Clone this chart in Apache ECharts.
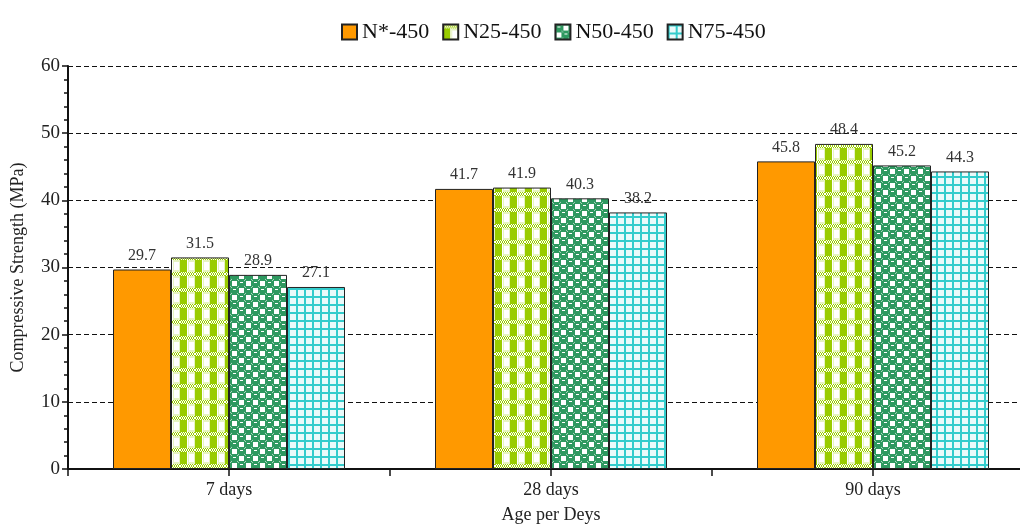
<!DOCTYPE html>
<html>
<head>
<meta charset="utf-8">
<script src="https://cdn.jsdelivr.net/npm/echarts@6/dist/echarts.min.js"></script>
<style>html,body{margin:0;padding:0;background:#fff;}#c{width:1020px;height:525px;}</style>
</head>
<body>
<div id="c"></div>
<script>
const categories = ['7 days', '28 days', '90 days'];
const seriesNames = ['N*-450', 'N25-450', 'N50-450', 'N75-450'];
const nStar = [29.7, 41.7, 45.8];
const n25 = [31.5, 41.9, 48.4];
const n50 = [28.9, 40.3, 45.2];
const n75 = [27.1, 38.2, 44.3];
const yTicks = [0, 10, 20, 30, 40, 50, 60];

function mk(w, h, draw) {
  const c = document.createElement('canvas');
  c.width = w; c.height = h;
  const g = c.getContext('2d');
  draw(g);
  return { image: c, repeat: 'repeat' };
}
const pat25 = mk(15, 16, g => {
  g.fillStyle = '#fff'; g.fillRect(0, 0, 15, 16);
  g.fillStyle = '#99cc00';
  for (let y = 0; y < 4; y += 2) for (let x = 0; x < 15; x += 2) { g.fillRect(x + (y % 4 ? 1 : 0), y, 1, 1); g.fillRect(x + (y % 4 ? 0 : 1), y + 1, 1, 1); }
  g.fillRect(0, 4, 7, 12);
  g.fillStyle = '#e6f4c0'; g.fillRect(8, 4, 7, 12);
  g.fillStyle = '#fff'; g.fillRect(9, 6, 5, 8);
});
const pat50 = mk(14, 14, g => {
  g.fillStyle = '#fff'; g.fillRect(0, 0, 14, 14);
  g.fillStyle = '#2e9960';
  g.beginPath(); g.arc(3.5, 3.5, 4.2, 0, Math.PI * 2); g.fill();
  g.beginPath(); g.arc(10.5, 10.5, 4.2, 0, Math.PI * 2); g.fill();
  g.fillRect(7, 0, 7, 7); g.fillRect(0, 7, 7, 7);
  g.fillStyle = '#fff';
  g.fillRect(8, 1, 5, 5); g.fillRect(1, 8, 5, 5);
  g.fillRect(2, 2, 3, 1); g.fillRect(9, 9, 3, 1);
});
const pat75 = mk(8, 8, g => {
  g.fillStyle = '#eafafa'; g.fillRect(0, 0, 8, 8);
  g.fillStyle = '#33cccc';
  g.fillRect(0, 0, 8, 2); g.fillRect(0, 0, 2, 8);
});
const fills = ['#ff9900', pat25, pat50, pat75];
const datas = [nStar, n25, n50, n75];
const serif = '"Liberation Serif", "DejaVu Serif", serif';

const chart = echarts.init(document.getElementById('c'), null, { renderer: 'canvas' });
chart.setOption({
  animation: false,
  backgroundColor: '#fff',
  legend: {
    top: 16, left: 336, itemWidth: 15, itemHeight: 15, itemGap: 13, icon: 'rect',
    textStyle: { fontFamily: serif, fontSize: 22, color: '#111' },
    data: seriesNames
  },
  grid: { left: 68, width: 966, top: 66, bottom: 56, containLabel: false, outerBoundsMode: 'none' },
  xAxis: {
    type: 'category', data: categories, position: 'bottom',
    axisLine: { lineStyle: { color: '#111', width: 2 } },
    axisTick: { show: true, alignWithLabel: false, length: 7, lineStyle: { color: '#111', width: 1.5 } },
    axisLabel: { fontFamily: serif, fontSize: 18, color: '#222', margin: 12 },
    name: 'Age per Deys', nameLocation: 'middle', nameGap: 37,
    nameTextStyle: { fontFamily: serif, fontSize: 18, color: '#222' }
  },
  yAxis: {
    type: 'value', min: yTicks[0], max: yTicks[yTicks.length - 1], interval: 10,
    axisLine: { show: true, lineStyle: { color: '#111', width: 2 } },
    axisTick: { show: true, length: 6, lineStyle: { color: '#111', width: 1.5 } },
    minorTick: { show: true, splitNumber: 5, length: 4, lineStyle: { color: '#111', width: 1.5 } },
    axisLabel: { fontFamily: serif, fontSize: 19, color: '#222', margin: 8 },
    splitLine: { show: true, lineStyle: { color: '#111', type: [5, 3], width: 1 } },
    name: 'Compressive Strength (MPa)', nameLocation: 'middle', nameGap: 41,
    nameTextStyle: { fontFamily: serif, fontSize: 18, color: '#222' }
  },
  series: seriesNames.map((n, i) => ({
    name: n, type: 'bar', data: datas[i],
    barWidth: 58, barGap: '0%',
    itemStyle: { color: fills[i], borderColor: '#222', borderWidth: 1 },
    label: { show: true, position: 'top', distance: 6, fontFamily: serif, fontSize: 16, color: '#333' }
  }))
});

// extra ticks under each category centre, placed through the axis scales
const y0 = chart.convertToPixel({ yAxisIndex: 0 }, yTicks[0]);
chart.setOption({
  graphic: categories.map(c => {
    const x = chart.convertToPixel({ xAxisIndex: 0 }, c);
    return {
      type: 'line', z: 100, silent: true,
      shape: { x1: x, y1: y0, x2: x, y2: y0 + 7 },
      style: { stroke: '#111', lineWidth: 1.5 }
    };
  })
});
</script>
</body>
</html>
